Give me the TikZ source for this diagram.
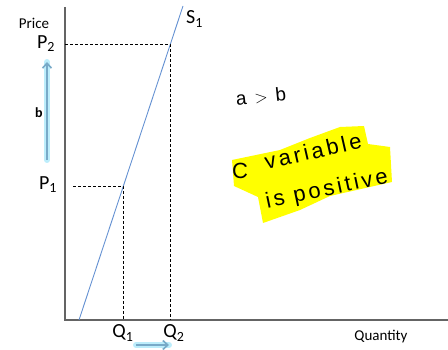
\documentclass[tikz,border=0pt]{standalone}
\usepackage{fontspec}
\setmainfont{Carlito}
\newfontfamily\handfont[LetterSpace=14]{Liberation Sans}
\usepackage{xcolor}
\usepackage{tikz}
\usetikzlibrary{arrows.meta, calc}
\definecolor{axisGray}{RGB}{100,100,100}
\definecolor{supplyBlue}{RGB}{100,145,210}
\definecolor{glowCyan}{RGB}{160,230,250}
\definecolor{moveBlue}{RGB}{120,170,200}
\definecolor{markYellow}{RGB}{255,255,0}
\tikzstyle{axis}  = [axisGray, line width=1.3pt]
\tikzstyle{guide} = [black, dashed, line width=0.7pt, dash pattern=on 3pt off 2pt]

\begin{document}
\begin{tikzpicture}[x=1pt, y=-1pt,
  lbl/.style={font=\fontsize{20}{22}\selectfont, inner sep=1pt},
  small lbl/.style={font=\fontsize{15}{17}\selectfont, inner sep=1pt},
  hand/.style={font=\handfont\fontsize{22}{24}\selectfont, inner sep=0pt},
  glow/.style={glowCyan, line width=6pt, opacity=0.7, line cap=round},
  move/.style={moveBlue, line width=1.6pt, -{Straight Barb[length=5pt, width=9pt]}}
]
  \useasboundingbox (0,0) rectangle (448,350);

  % Axes
  \coordinate (origin) at (65,320);
  \coordinate (ytop) at (65,7);
  \coordinate (xend) at (448,320);
  \draw[axis] (ytop) -- (origin) -- (xend);

  % Supply curve
  \coordinate (sbot) at (79,320);
  \coordinate (stop) at (183,6);
  \draw[supplyBlue, line width=0.9pt] (sbot) -- (stop);
  \node[lbl, anchor=west] (s1) at (185,19) {S\textsubscript{1}};

  % Points on the curve
  \coordinate (pt1) at (123,186);
  \coordinate (pt2) at (170,44);
  \coordinate (p1start) at (73,186);
  \coordinate (p2start) at (65,44);
  \coordinate (q1foot) at (123,320);
  \coordinate (q2foot) at (170,320);
  \draw[guide] (p1start) -- (pt1) -- (q1foot);
  \draw[guide] (p2start) -- (pt2) -- (q2foot);

  % Axis labels
  \node[small lbl] (price) at (34,23) {Price};
  \node[small lbl] (quantity) at (381,337) {Quantity};
  \node[lbl] (p2) at (46,44) {P\textsubscript{2}};
  \node[lbl] (p1) at (48,185) {P\textsubscript{1}};
  \node[lbl] (q1) at (123,333) {Q\textsubscript{1}};
  \node[lbl] (q2) at (174,333) {Q\textsubscript{2}};

  % Price rise arrow
  \coordinate (upfrom) at (47,160);
  \coordinate (upto) at (47,62);
  \draw[glow] (upfrom) -- (upto);
  \draw[move] (upfrom) -- (upto);
  \node[hand, font=\bfseries\fontsize{14}{15}\selectfont] (bmark) at (39,113) {b};

  % Quantity rise arrow
  \coordinate (rightfrom) at (136,345);
  \coordinate (rightto) at (169,345);
  \draw[glow] (rightfrom) -- (rightto);
  \draw[move] (rightfrom) -- (rightto);

  % Handwritten notes
  \node[hand, rotate=6, font=\handfont\fontsize{19}{21}\selectfont] (ab) at (261,96) {a {\fontsize{17}{18}\selectfont$>$} b};
  \fill[markYellow] (232,160) -- (280,150) -- (310,138) -- (340,127) -- (364,126)
    -- (368,144) -- (390,147) -- (392,182) -- (330,196) -- (300,210) -- (263,223)
    -- (258,197) -- (234,186) -- cycle;
  \node[hand] (cmark) at (240,171) {C};
  \node[hand, rotate=13] (cvar) at (313,151) {variable};
  \node[hand, rotate=12] (ispos) at (327,190) {is positive};
\end{tikzpicture}
\end{document}
